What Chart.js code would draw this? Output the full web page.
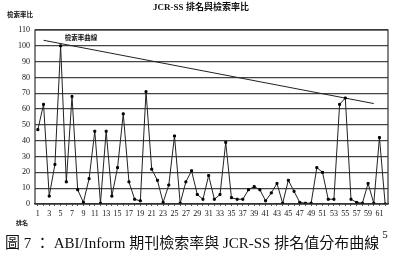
<!DOCTYPE html>
<html lang="zh-Hant">
<head>
  <meta charset="utf-8">
  <title>JCR-SS 排名與檢索率比</title>
  <script src="https://cdn.jsdelivr.net/npm/chart.js"></script>
  <style>
    body { margin: 0; background: #fff; }
    .wrap { position: relative; width: 400px; height: 271px; }
  </style>
</head>
<body>
  <div class="wrap"><canvas id="rankChart"></canvas></div>

  <script>
    // ranks 1..62
    const ranks = [];
    for (let i = 1; i <= 62; i++) ranks.push(String(i));

    // retrieval rate per rank
    const rates = [
      47, 63, 5, 25, 100, 14, 68, 9, 1, 16,
      46, 0.5, 46, 5, 23, 57, 14, 3, 2, 71,
      22, 15, 1, 12, 43, 0.5, 14, 21, 6, 3,
      18, 3, 6, 39, 4, 3, 3, 9, 11, 9,
      2, 7, 13, 0.5, 15, 8, 1, 0.5, 0.5, 23,
      20, 3, 3, 63, 67, 3, 1, 0.5, 13, 0.5,
      42, 0
    ];

    // trend line: two end points (rank, value)
    const trendRanks = [2, 60];
    const trendValues = [103.5, 63.5];
    const trend = ranks.map(r => {
      const k = trendRanks.indexOf(Number(r));
      return k >= 0 ? trendValues[k] : null;
    });

    const yTicks = [0, 10, 20, 30, 40, 50, 60, 70, 80, 90, 100, 110];

    const SERIF = '"Liberation Serif", "Noto Sans CJK TC", serif';

    // titles, caption and frame drawn on top of the chart
    const textPlugin = {
      id: 'textPlugin',
      afterDraw(chart) {
        const ctx = chart.ctx;
        const a = chart.chartArea;
        const x = chart.scales.x, y = chart.scales.y;
        ctx.save();
        ctx.fillStyle = '#111';

        // frame
        ctx.strokeStyle = '#333';
        ctx.lineWidth = 1.2;
        ctx.strokeRect(a.left, a.top, a.right - a.left, a.bottom - a.top);

        // chart title
        ctx.textAlign = 'center';
        ctx.textBaseline = 'middle';
        ctx.font = 'bold 9px ' + SERIF;
        ctx.fillText('JCR-SS 排名與檢索率比', 201, 8);

        // axis titles
        ctx.font = 'bold 6.5px ' + SERIF;
        ctx.fillText('檢索率比', 20, 15);
        ctx.font = 'bold 6px ' + SERIF;
        ctx.fillText('排名', 22, 223);

        // trend line label
        ctx.font = 'bold 6.5px ' + SERIF;
        ctx.fillText('檢索率曲線', x.getPixelForValue(7.6), y.getPixelForValue(104.5));

        // caption
        ctx.textAlign = 'left';
        ctx.font = '15px ' + SERIF;
        const cap = '圖 7 ： ABI/Inform 期刊檢索率與 JCR-SS 排名值分布曲線';
        ctx.fillText(cap, 5, 244);
        const w = ctx.measureText(cap).width;
        ctx.font = '11px ' + SERIF;
        ctx.fillText('5', 5 + w + 3, 235);
        ctx.restore();
      }
    };

    new Chart(document.getElementById('rankChart'), {
      type: 'line',
      data: {
        labels: ranks,
        datasets: [
          {
            label: '檢索率',
            data: rates,
            borderColor: '#222',
            borderWidth: 1,
            pointStyle: 'rect',
            pointRadius: 1.4,
            pointBackgroundColor: '#000',
            pointBorderColor: '#000',
            tension: 0
          },
          {
            label: '檢索率曲線',
            data: trend,
            spanGaps: true,
            borderColor: '#222',
            borderWidth: 1,
            pointRadius: 0
          }
        ]
      },
      options: {
        responsive: true,
        maintainAspectRatio: false,
        animation: false,
        layout: { padding: { left: 0, right: 12, top: 30, bottom: 0 } },
        plugins: {
          legend: { display: false },
          tooltip: { enabled: false }
        },
        scales: {
          x: {
            offset: true,
            afterFit(s) { s.height = 67; },
            border: { display: true, color: '#333', width: 1.2 },
            grid: { display: true, drawOnChartArea: false, tickLength: 2, color: '#555' },
            ticks: {
              autoSkip: false,
              maxRotation: 0,
              padding: 3,
              color: '#111',
              font: { family: SERIF, size: 8 },
              callback(v, i) { return i % 2 === 0 ? this.getLabelForValue(v) : ''; }
            }
          },
          y: {
            min: 0,
            max: 110,
            afterFit(s) { s.width = 35; },
            afterBuildTicks(s) { s.ticks = yTicks.map(v => ({ value: v })); },
            border: { display: false },
            grid: { color: '#444', lineWidth: 1.3, tickLength: 0 },
            ticks: {
              padding: 5,
              color: '#111',
              font: { family: SERIF, size: 8 }
            }
          }
        }
      },
      plugins: [textPlugin]
    });
  </script>
</body>
</html>
